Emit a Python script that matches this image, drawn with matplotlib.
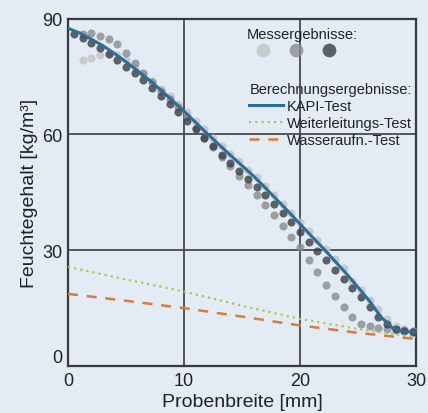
import matplotlib
matplotlib.use("Agg")
import matplotlib.pyplot as plt

plt.rcParams['font.family'] = ['Liberation Sans', 'DejaVu Sans']

# ---- data ----
x_meas = [0.5, 1.25, 2, 2.75, 3.5, 4.25, 5, 5.75, 6.5, 7.25, 8, 8.75, 9.5, 10.25,
          11, 11.75, 12.5, 13.25, 14, 14.75, 15.5, 16.25, 17, 17.75, 18.5, 19.25,
          20, 20.75, 21.5, 22.25, 23, 23.75, 24.5, 25.25, 26, 26.75, 27.5, 28.25,
          29, 29.75]

meas_light = [None, 79.2, 79.9, 80.5, 80.9, 80.6, 79.2, 77.5, 75.7, 73.9, 71.9, 69.9,
              67.8, 65.7, 63.5, 61.3, 59.2, 57.1, 55.0, 53.0, 50.9, 48.9, 46.6, 44.3,
              42.0, 39.7, 37.3, 34.9, 32.6, 30.2, 27.8, 25.3, 22.0, 19.8, 17.2, 14.8,
              12.2, 10.4, 9.5, 9.1]

meas_mid = [None, 86.0, 86.2, 85.6, 84.8, 83.5, 81.0, 78.4, 76.0, 73.6, 71.2, 69.2,
            67.0, 64.5, 61.8, 59.2, 56.7, 54.2, 51.8, 49.3, 46.8, 44.2, 41.6, 39.0,
            36.2, 33.4, 30.8, 27.5, 24.3, 21.0, 18.2, 15.3, 12.6, 11.0, 10.3, 9.9,
            9.6, 9.4, 9.3, 9.2]

meas_dark = [86.0, 85.0, 83.6, 82.3, 80.8, 79.3, 77.5, 75.8, 74.0, 72.0, 70.0, 68.0,
             65.8, 63.6, 61.3, 59.0, 56.9, 54.8, 52.7, 50.6, 48.5, 46.4, 44.2, 41.9,
             39.6, 37.2, 34.7, 32.2, 29.8, 27.4, 25.0, 22.6, 20.2, 17.8, 15.2, 12.8,
             10.8, 9.6, 9.0, 8.7]

x_calc = [0, 1, 2, 3, 4, 5, 6, 7, 8, 9, 10, 11, 12, 13, 14, 15, 16, 17, 18, 19, 20,
          21, 22, 23, 24, 25, 26, 27, 28, 28.5, 29, 30]
kapi = [87.5, 86.3, 84.7, 83.0, 81.0, 78.8, 76.5, 74.1, 71.5, 68.8, 66.0, 63.1, 60.2,
        57.4, 54.6, 51.9, 49.2, 46.2, 43.1, 40.0, 36.8, 33.6, 30.5, 27.2, 23.9, 20.4,
        16.8, 12.6, 9.8, 9.2, 8.9, 8.8]

x_lin = [0, 5, 10, 15, 20, 25, 30]
weiter = [25.7, 22.4, 19.3, 15.6, 12.2, 9.6, 7.5]
wasser = [18.7, 16.9, 15.0, 12.8, 10.5, 8.6, 7.0]

x_ticks = [0, 10, 20, 30]
y_ticks = [0, 30, 60, 90]

# ---- style ----
bg = '#e3ebf5'
txt = '#222222'
c_light, c_mid, c_dark = '#c4c6c8', '#898b8e', '#3c3e41'
c_kapi, c_weiter, c_wasser = '#2b6e98', '#a9c94f', '#d97b3c'

fig = plt.figure(figsize=(4.28, 4.14), dpi=100, facecolor=bg)
ax = fig.add_axes([0.159, 0.1135, 0.813, 0.839], facecolor=bg)

def pairs(ys):
    xs = [x for x, y in zip(x_meas, ys) if y is not None]
    yy = [y for y in ys if y is not None]
    return xs, yy

ms = 34
h_light = ax.scatter(*pairs(meas_light), s=ms, color=c_light, alpha=0.85, lw=0, zorder=3)
h_mid = ax.scatter(*pairs(meas_mid), s=ms, color=c_mid, alpha=0.8, lw=0, zorder=3)
h_dark = ax.scatter(*pairs(meas_dark), s=ms, color=c_dark, alpha=0.8, lw=0, zorder=3)

l_kapi, = ax.plot(x_calc, kapi, color=c_kapi, lw=2.2, zorder=4)
l_weiter, = ax.plot(x_lin, weiter, color=c_weiter, lw=1.6, ls=(0, (1, 1.8)), zorder=4)
l_wasser, = ax.plot(x_lin, wasser, color=c_wasser, lw=1.8, ls=(0, (4, 3.5)), zorder=4)

ax.set_xlim(0, 30)
ax.set_ylim(0, 90)
ax.set_xticks(x_ticks)
ax.set_yticks(y_ticks)
ax.tick_params(length=0, labelsize=13, colors=txt, pad=4)
ax.get_yticklabels()[0].set_verticalalignment('bottom')
ax.grid(True, color='#4a4a4a', lw=1.3)
ax.set_axisbelow(True)
for s in ax.spines.values():
    s.set_color('#3a3a3a')
    s.set_linewidth(1.6)

ax.set_xlabel('Probenbreite [mm]', fontsize=14, color=txt)
ax.xaxis.set_label_coords(0.501, -0.078)
ax.set_ylabel('Feuchtegehalt [kg/m³]', fontsize=14, color=txt, labelpad=3)

# legends
leg1 = ax.legend([h_light, h_mid, h_dark], ['', '', '   '], ncol=3, title='Messergebnisse:',
                 frameon=False, loc='upper center', bbox_to_anchor=(0.672, 1.005),
                 markerscale=1.7, handletextpad=0.0, columnspacing=1.25,
                 handlelength=1.0, title_fontsize=10.5, fontsize=10.5, borderpad=0.2,
                 labelspacing=0.1, labelcolor=txt)
leg1.get_title().set_color(txt)
ax.add_artist(leg1)
leg2 = ax.legend([l_kapi, l_weiter, l_wasser],
                 ['KAPI-Test', 'Weiterleitungs-Test', 'Wasseraufn.-Test'],
                 title='Berechnungsergebnisse:', frameon=False, loc='upper left',
                 bbox_to_anchor=(0.50, 0.838), fontsize=10.5, title_fontsize=10.5,
                 handlelength=2.3, handletextpad=0.3, labelspacing=0.2,
                 borderpad=0.0, alignment='left', labelcolor=txt)
leg2.get_title().set_color(txt)

fig.savefig('out.png', dpi=100, facecolor=bg)
